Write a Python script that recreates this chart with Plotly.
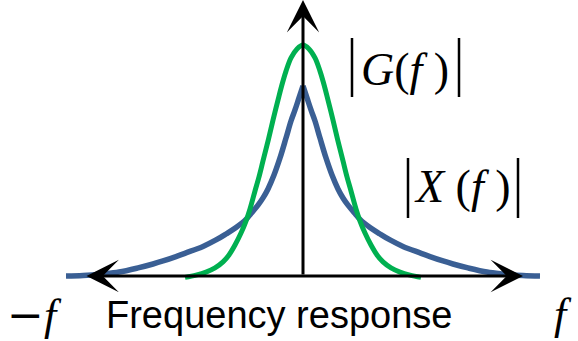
import plotly.graph_objects as go

W, H = 578, 341

# ---- data
# frequency in arbitrary units, magnitude in % of the |G(f)| peak
blue_f_right = [0.0, 0.04, 0.08, 0.12, 0.17, 0.23, 0.29, 0.35, 0.40, 0.45, 0.52, 0.57, 0.67,
                0.77, 0.87, 1.00, 1.17, 1.27, 1.40, 1.50, 1.65, 1.84, 2.00, 2.20, 2.37]
blue_mag_right = [82.3, 77.1, 71.9, 67.1, 59.7, 51.1, 43.7, 37.7, 33.8, 30.7, 27.1, 24.5, 21.0,
                  18.2, 15.6, 12.8, 10.0, 8.4, 6.5, 5.2, 3.5, 1.7, 0.9, 0.2, 0.0]
blue_f_left = [-2.37, -2.20, -2.00, -1.84, -1.65, -1.50, -1.40, -1.27, -1.17, -1.00, -0.87, -0.77,
               -0.67, -0.57, -0.52, -0.45, -0.40, -0.35, -0.29, -0.23, -0.17, -0.12, -0.08, -0.04, 0.0]
blue_mag_left = [0.0, 0.2, 0.9, 1.7, 3.5, 5.2, 6.5, 8.4, 10.0, 12.8, 15.6, 18.2,
                 21.0, 24.5, 27.1, 30.7, 33.8, 37.7, 43.7, 51.1, 59.7, 67.1, 71.9, 77.1, 82.3]

green_f = [-1.18, -1.07, -0.97, -0.88, -0.80, -0.74, -0.68, -0.62, -0.57, -0.53, -0.48, -0.44,
           -0.40, -0.35, -0.30, -0.24, -0.20, -0.17, -0.12, -0.06, 0.0,
           0.06, 0.12, 0.17, 0.20, 0.24, 0.30, 0.35, 0.40, 0.44, 0.48, 0.53, 0.57, 0.62,
           0.68, 0.74, 0.80, 0.88, 0.97, 1.07, 1.18]
green_mag = [-0.6, 0.4, 1.7, 3.5, 6.1, 9.1, 13.4, 18.6, 23.8, 29.0, 36.8, 42.9,
             49.8, 58.4, 67.5, 77.9, 84.4, 88.7, 94.4, 98.3, 100.0,
             98.3, 94.4, 88.7, 84.4, 77.9, 67.5, 58.4, 49.8, 42.9, 36.8, 29.0, 23.8, 18.6,
             13.4, 9.1, 6.1, 3.5, 1.7, 0.4, -0.6]

x_label = "Frequency response"
label_G = "<i>G</i>(<i>f </i>)"
label_X = "<i>X</i> (<i>f </i>)"

# ---- layout helpers (pixel -> axis units)
X0PX, UX = 303.0, 100.0     # f=0 position, px per unit
Y0PX, UY = 276.0, 2.31      # mag=0 position, px per unit
def fx(px): return (px - X0PX) / UX
def my(py): return (Y0PX - py) / UY
def pxp(px): return px / W
def pyp(py): return 1 - py / H

BLUE = "rgb(58,95,148)"
GREEN = "rgb(0,176,80)"

fig = go.Figure()
for fs, ms in [(blue_f_left, blue_mag_left), (blue_f_right, blue_mag_right)]:
    fig.add_trace(go.Scatter(x=fs, y=ms, mode="lines",
                             line=dict(color=BLUE, width=5.5, shape="spline", smoothing=1.0),
                             hoverinfo="skip", showlegend=False))
fig.add_trace(go.Scatter(x=green_f, y=green_mag, mode="lines",
                         line=dict(color=GREEN, width=5, shape="spline", smoothing=1.0),
                         hoverinfo="skip", showlegend=False))

annotations = []
annotations.append(dict(x=fx(523), y=0, ax=fx(85), ay=0, xref="x", yref="y", axref="x", ayref="y",
                        text="", showarrow=True, arrowhead=3, startarrowhead=3, arrowside="end+start",
                        arrowwidth=3, arrowsize=1.8, startarrowsize=1.8, arrowcolor="black",
                        standoff=0, startstandoff=0))
annotations.append(dict(x=0, y=my(0), ax=0, ay=0, xref="x", yref="y", axref="x", ayref="y",
                        text="", showarrow=True, arrowhead=3, arrowwidth=3, arrowsize=1.8,
                        arrowcolor="black", standoff=0))

serif = "Liberation Serif"
annotations += [
    dict(x=pxp(405), y=pyp(69), xref="paper", yref="paper", text=label_G, showarrow=False,
         font=dict(family=serif, size=46, color="black"), xanchor="center", yanchor="middle"),
    dict(x=pxp(463), y=pyp(187), xref="paper", yref="paper", text=label_X, showarrow=False,
         font=dict(family=serif, size=46, color="black"), xanchor="center", yanchor="middle"),
    dict(x=pxp(34), y=pyp(314), xref="paper", yref="paper",
         text="<span style=\"font-family:'DejaVu Serif'\">\u2212</span><i>f</i>", showarrow=False,
         font=dict(family=serif, size=44, color="black"), xanchor="center", yanchor="middle"),
    dict(x=pxp(563), y=pyp(314), xref="paper", yref="paper", text="<i>f</i>", showarrow=False,
         font=dict(family=serif, size=44, color="black"), xanchor="center", yanchor="middle"),
    dict(x=pxp(279), y=pyp(315), xref="paper", yref="paper", text=x_label, showarrow=False,
         font=dict(family="Liberation Sans", size=38, color="black"), xanchor="center", yanchor="middle"),
]

shapes = []
for bx, y1, y2 in [(352, 38, 97), (459, 38, 97), (408, 158, 218), (518, 158, 218)]:
    shapes.append(dict(type="line", xref="paper", yref="paper",
                       x0=pxp(bx), x1=pxp(bx), y0=pyp(y1), y1=pyp(y2),
                       line=dict(color="black", width=2.5)))

fig.update_layout(
    width=W, height=H, autosize=False,
    margin=dict(l=0, r=0, t=0, b=0),
    paper_bgcolor="white", plot_bgcolor="white",
    xaxis=dict(range=[fx(0), fx(W)], visible=False, fixedrange=True),
    yaxis=dict(range=[my(H), my(0)], visible=False, fixedrange=True),
    annotations=annotations, shapes=shapes,
)

fig.write_html("out.html")
